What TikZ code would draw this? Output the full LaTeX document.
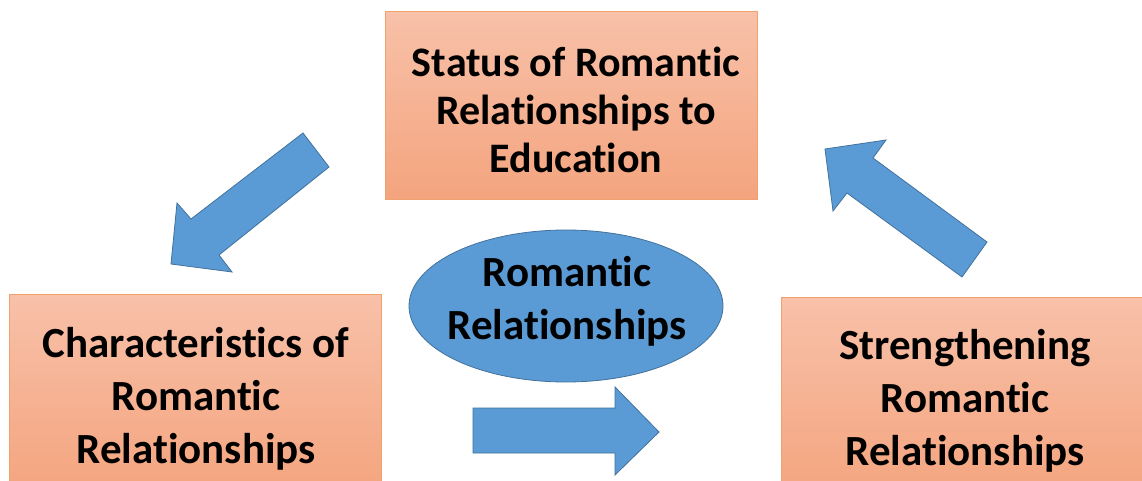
\documentclass[tikz,border=0pt]{standalone}
\usepackage{fontspec}
\setmainfont{Carlito}[Ligatures={NoCommon,NoContextual}]
\definecolor{boxtop}{HTML}{F8C1A9}
\definecolor{boxbottom}{HTML}{F4A47E}
\definecolor{boxline}{HTML}{F2A06C}
\definecolor{bluefill}{HTML}{5B9BD5}
\definecolor{blueline}{HTML}{41719C}
\begin{document}
\begin{tikzpicture}[x=1pt,y=-1pt,
  panel/.style={draw=boxline, line width=1pt, top color=boxtop, bottom color=boxbottom,
    rectangle, inner sep=0pt, anchor=north west},
  label/.style={font=\bfseries\fontsize{43}{53}\selectfont, align=center, text=black, inner sep=0pt},
  blockarrow/.style={fill=bluefill, draw=blueline, line width=0.8pt, line join=miter}]
\useasboundingbox (0,0) rectangle (1142,481);
\fill[white] (0,0) rectangle (1142,481);

% three process boxes
\node[panel, minimum width=372pt, minimum height=188pt] (status) at (385,11) {};
\node[panel, minimum width=372pt, minimum height=200pt] (charac) at (9,294) {};
\node[panel, minimum width=370pt, minimum height=200pt] (streng) at (781,297) {};

% box texts
\node[label, font=\bfseries\fontsize{42}{48}\selectfont] (statusT) at (576,110) {Status of Romantic\\Relationships to\\Education};
\node[label] (characT) at (196,399) {Characteristics of\\Romantic\\Relationships};
\node[label] (strengT) at (965,401) {Strengthening\\Romantic\\Relationships};

% central ellipse
\draw[fill=bluefill, draw=blueline, line width=0.8pt] (566,306) ellipse [x radius=157, y radius=76];
\node[label] (core) at (567,301) {Romantic\\Relationships};

% block arrows of the cycle
\draw[blockarrow] (303,133) -- (329,167) -- (219,255) -- (232,272) -- (171,264)
  -- (177,203) -- (191,219) -- cycle;
\draw[blockarrow] (473,408) -- (615,408) -- (615,387) -- (659,432) -- (615,475)
  -- (615,453) -- (473,453) -- cycle;
\draw[blockarrow] (825,149) -- (886,140) -- (873,158) -- (987,242) -- (962,277)
  -- (847,193) -- (833,211) -- cycle;
\end{tikzpicture}
\end{document}
